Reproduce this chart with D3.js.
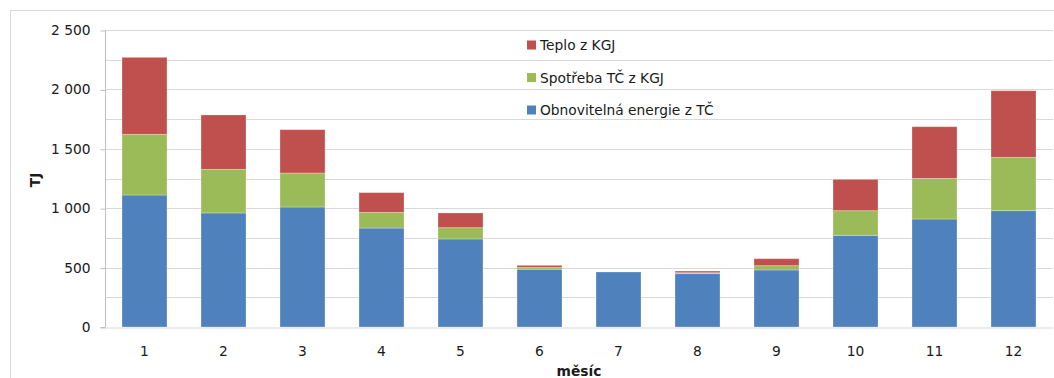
<!DOCTYPE html>
<html><head><meta charset="utf-8">
<script src="https://cdn.jsdelivr.net/npm/d3@7"></script>
<style>html,body{margin:0;padding:0;background:#fff;}svg{display:block;font-family:"DejaVu Sans",sans-serif;}</style>
</head><body>
<svg id="c" width="1054" height="378"></svg>
<script>
const months = ["1","2","3","4","5","6","7","8","9","10","11","12"];
const obnovitelna = [1111, 960, 1010, 833, 741, 486, 463, 449, 480, 772, 909, 979];
const spotrebaTC = [511, 367, 286, 132, 95, 16, 0, 8, 36, 207, 342, 449];
const teploKGJ = [648, 458, 365, 166, 124, 17, 0, 14, 59, 264, 435, 561];
const seriesNames = ["Obnovitelná energie z TČ", "Spotřeba TČ z KGJ", "Teplo z KGJ"];
const seriesColors = ["#4F81BD", "#9BBB59", "#C0504D"];
const yTicks = [0, 500, 1000, 1500, 2000, 2500];
const yGrid = [250, 500, 750, 1000, 1250, 1500, 1750, 2000, 2250, 2500];

const svg = d3.select("#c");
const L = 105, R = 1053, T = 30, B = 327;
const FS = 13.8;

// outer chart border
svg.append("rect").attr("x", 10.5).attr("y", 10.5).attr("width", 1100).attr("height", 400)
  .attr("fill", "none").attr("stroke", "#d9d9d9");

const x = d3.scaleBand().domain(months).range([L, R]).paddingInner(34/79).paddingOuter(17/79);
const y = d3.scaleLinear().domain([0, 2500]).range([B, T]);

// gridlines
svg.append("g").selectAll("line").data(yGrid).join("line")
  .attr("x1", L).attr("x2", R).attr("y1", d => Math.round(y(d)) + 0.5).attr("y2", d => Math.round(y(d)) + 0.5)
  .attr("stroke", "#d9d9d9").attr("stroke-width", 1);

// stacked bars
const table = months.map((m, i) => ({m, s0: obnovitelna[i], s1: spotrebaTC[i], s2: teploKGJ[i]}));
const stack = d3.stack().keys(["s0", "s1", "s2"])(table);
svg.append("g").selectAll("g").data(stack).join("g")
  .attr("fill", (d, i) => seriesColors[i])
  .selectAll("rect").data(d => d).join("rect")
  .attr("x", d => x(d.data.m)).attr("width", x.bandwidth())
  .attr("y", d => y(d[1])).attr("height", d => y(d[0]) - y(d[1]))
  .attr("stroke", "rgba(255,255,255,0.35)").attr("stroke-width", 0.8);

// y axis
const yAxis = d3.axisLeft(y).tickValues(yTicks).tickSize(5).tickPadding(10)
  .tickFormat(d => d3.format(",")(d).replace(/,/g, " "));
const ga = svg.append("g").attr("transform", `translate(${L + 0.5},0)`).call(yAxis);
ga.select(".domain").attr("stroke", "#bfbfbf").attr("d", `M-5,${B + 0.5}H0V${T}`);
ga.selectAll(".tick line").attr("stroke", "#bfbfbf").attr("transform", "translate(0,0.5)");
ga.selectAll(".tick text").attr("font-size", FS).attr("fill", "#1a1a1a").attr("font-family", "DejaVu Sans");

// x axis
const xAxis = d3.axisBottom(x).tickSize(0).tickPadding(19);
const gx = svg.append("g").attr("transform", `translate(0,${B + 0.5})`).call(xAxis);
gx.select(".domain").attr("stroke", "#d9d9d9");
gx.selectAll(".tick text").attr("font-size", FS).attr("fill", "#1a1a1a").attr("font-family", "DejaVu Sans");

// axis titles
svg.append("text").attr("transform", "translate(40,180) rotate(-90)").attr("text-anchor", "middle")
  .attr("font-size", FS).attr("font-weight", "bold").attr("fill", "#1a1a1a").text("TJ");
svg.append("text").attr("x", (L + R) / 2).attr("y", 376).attr("text-anchor", "middle")
  .attr("font-size", FS).attr("font-weight", "bold").attr("fill", "#1a1a1a").text("měsíc");

// legend (reverse order)
const legendItems = [2, 1, 0];
const lg = svg.append("g");
legendItems.forEach((si, k) => {
  const cy = 45 + k * 32.5;
  lg.append("rect").attr("x", 527).attr("y", cy - 4.5).attr("width", 9).attr("height", 9).attr("fill", seriesColors[si]);
  lg.append("text").attr("x", 540).attr("y", cy + 5).attr("font-size", FS).attr("fill", "#1a1a1a").text(seriesNames[si]);
});
</script>
</body></html>
